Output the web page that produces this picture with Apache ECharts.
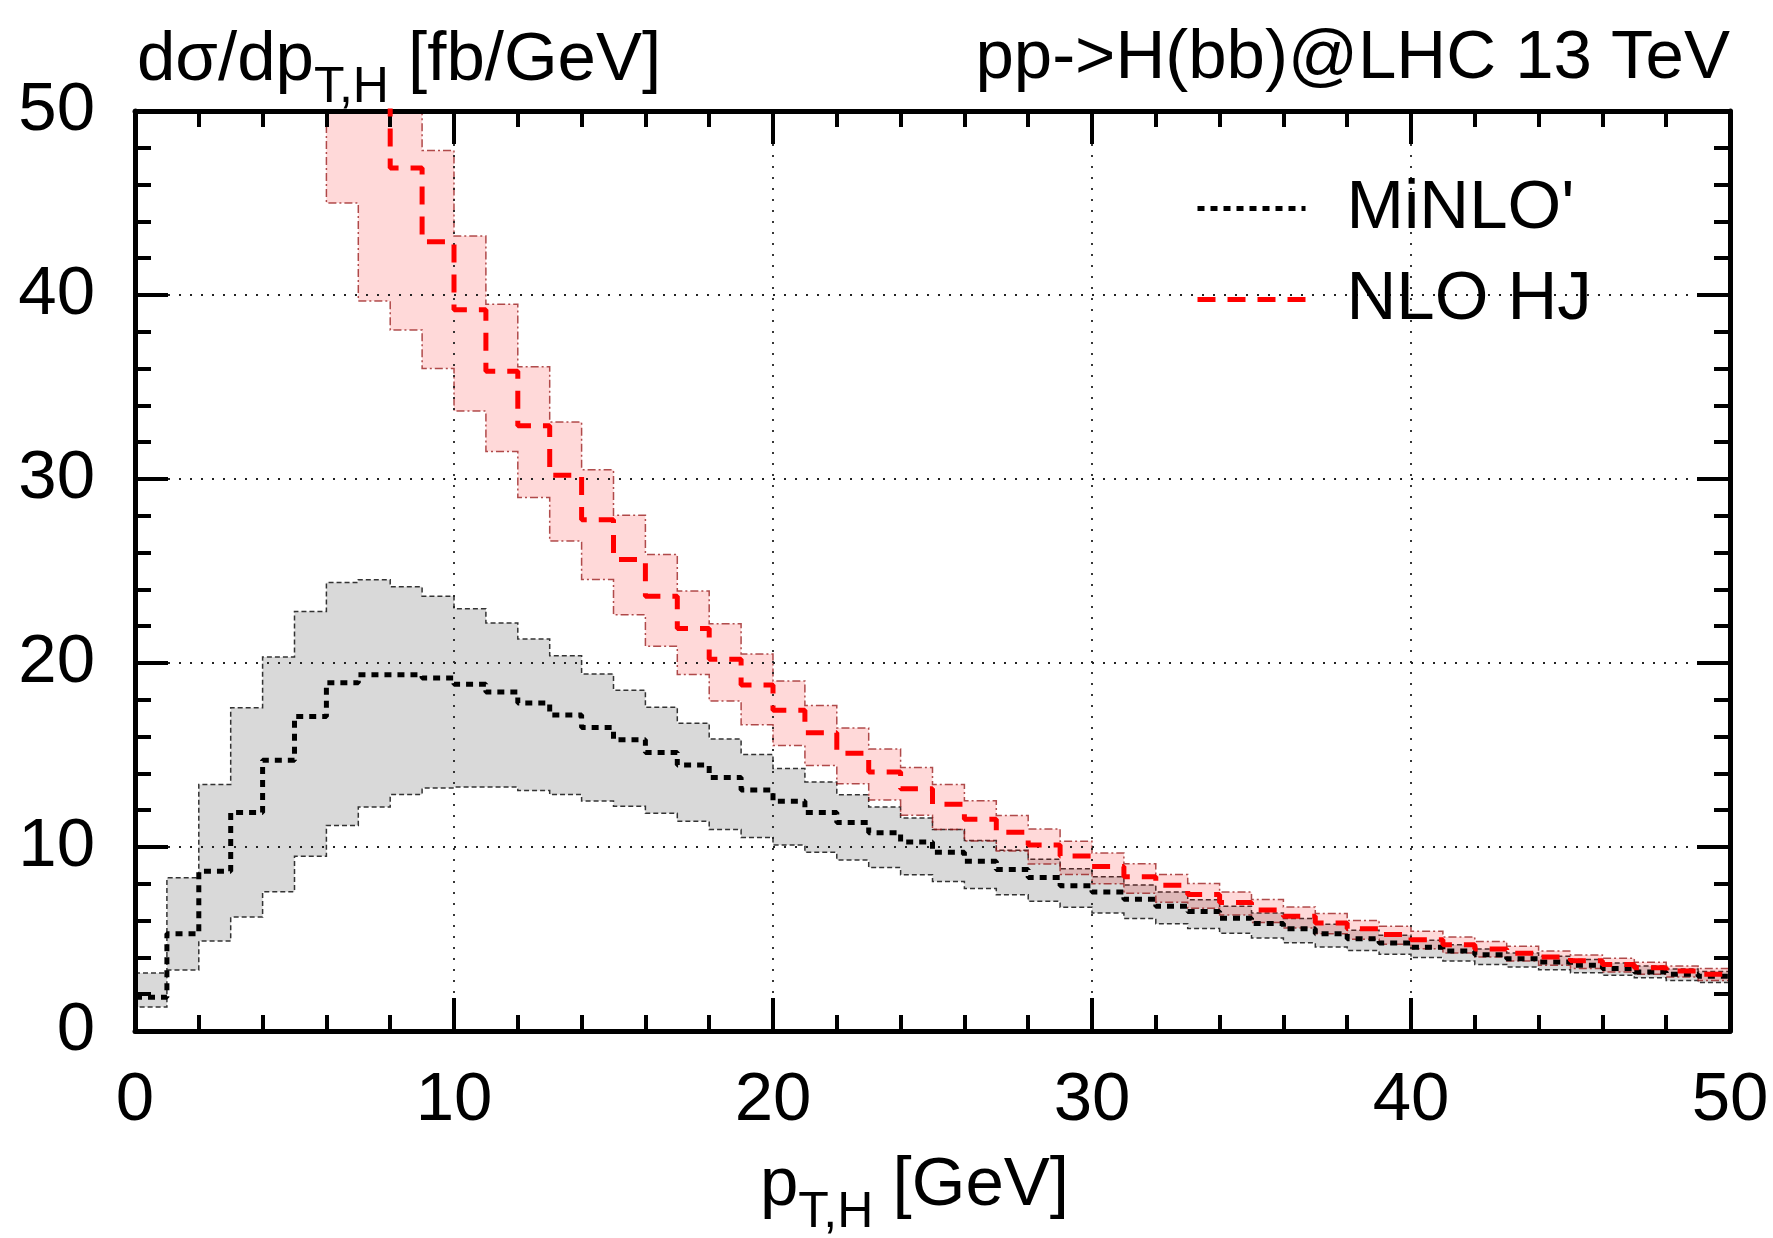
<!DOCTYPE html>
<html><head><meta charset="utf-8">
<script src="https://cdn.jsdelivr.net/npm/echarts@6/dist/echarts.min.js"></script>
<style>html,body{margin:0;padding:0;background:#fff}#c{width:1773px;height:1238px}</style>
</head><body><div id="c"></div>
<script>
// Bin edges (GeV), 1 GeV bins from 0 to 50
const binEdges = [0,1,2,3,4,5,6,7,8,9,10,11,12,13,14,15,16,17,18,19,20,21,22,23,24,25,26,27,28,29,30,31,32,33,34,35,36,37,38,39,40,41,42,43,44,45,46,47,48,49,50];

// MiNLO' : central value, upper and lower scale-variation envelope (fb/GeV)
const minloCentral = [1.83,5.28,8.68,11.88,14.72,17.09,18.93,19.36,19.36,19.18,
  18.85,18.43,17.83,17.18,16.49,15.83,15.13,14.45,13.78,13.10,
  12.48,11.88,11.33,10.78,10.27,9.71,9.22,8.78,8.34,7.89,
  7.56,7.16,6.78,6.49,6.13,5.84,5.56,5.29,5.02,4.78,
  4.55,4.35,4.15,3.93,3.75,3.57,3.39,3.21,3.08,2.97];
const minloUpper = [3.15,8.33,13.40,17.57,20.33,22.80,24.37,24.52,24.14,23.63,
  22.95,22.17,21.30,20.39,19.40,18.52,17.59,16.73,15.87,15.03,
  14.26,13.53,12.84,12.17,11.57,10.95,10.35,9.82,9.33,8.82,
  8.38,7.94,7.56,7.13,6.78,6.41,6.11,5.80,5.47,5.20,
  4.93,4.69,4.46,4.24,4.06,3.88,3.70,3.53,3.37,3.24];
const minloLower = [1.30,3.32,4.89,6.19,7.57,9.50,11.17,12.17,12.85,13.20,
  13.26,13.26,13.07,12.85,12.50,12.21,11.83,11.40,10.95,10.51,
  10.11,9.71,9.29,8.89,8.49,8.12,7.74,7.41,7.05,6.72,
  6.41,6.12,5.83,5.57,5.31,5.05,4.80,4.57,4.38,4.17,
  3.99,3.80,3.62,3.48,3.33,3.17,3.03,2.90,2.75,2.63];

// NLO HJ : central, upper, lower (bins below 6 GeV lie above the plotted range)
const hjCentral = [null,null,null,null,null,null,57,52,46.9,42.9,
  39.2,35.85,32.9,30.2,27.78,25.62,23.63,21.87,20.2,18.80,
  17.43,16.21,15.10,14.08,13.17,12.33,11.51,10.80,10.11,9.51,
  8.94,8.38,7.92,7.42,6.98,6.58,6.23,5.87,5.56,5.24,
  4.96,4.69,4.46,4.22,4.02,3.82,3.62,3.44,3.26,3.08];
const hjUpper = [null,null,null,null,null,null,65,59,53,47.86,
  43.2,39.5,36.1,33.1,30.5,28.03,25.9,23.91,22.13,20.49,
  19.02,17.69,16.47,15.32,14.32,13.39,12.51,11.71,10.98,10.31,
  9.67,9.09,8.51,8.01,7.56,7.14,6.74,6.38,6.01,5.69,
  5.42,5.11,4.86,4.60,4.35,4.13,3.95,3.73,3.53,3.39];
const hjLower = [null,null,null,null,null,null,45.0,39.67,38.1,36.0,
  33.7,31.5,29.0,26.63,24.54,22.62,20.91,19.37,17.94,16.65,
  15.52,14.43,13.44,12.55,11.73,10.95,10.33,9.78,9.07,8.51,
  8.0,7.49,7.0,6.67,6.30,5.90,5.60,5.29,4.98,4.71,
  4.47,4.24,4.02,3.80,3.57,3.39,3.21,3.08,2.93,2.75];

const FONT = 'Liberation Sans';
const FS = 69;
const FSUB = 50;

function stepData(vals){
  const out = [];
  let last = -1;
  for (let i = 0; i < vals.length; i++) {
    if (vals[i] == null) continue;
    out.push([binEdges[i], vals[i]]);
    last = i;
  }
  if (last >= 0) out.push([binEdges[last + 1], vals[last]]);
  return out;
}
function bandItems(low, up){
  const out = [];
  for (let i = 0; i < low.length; i++) {
    if (low[i] == null || up[i] == null) continue;
    out.push([binEdges[i], binEdges[i + 1], low[i], up[i]]);
  }
  return out;
}
function bandSeries(low, up, style, z){
  const items = bandItems(low, up);
  return {
    type: 'custom', z: z, clip: true, silent: true,
    data: items,
    encode: {x: [0, 1], y: [2, 3]},
    renderItem: function(params, api){
      if (params.dataIndex !== 0) return null;
      const pts = [];
      for (const it of items) { pts.push(api.coord([it[0], it[3]])); pts.push(api.coord([it[1], it[3]])); }
      for (let k = items.length - 1; k >= 0; k--) { const it = items[k]; pts.push(api.coord([it[1], it[2]])); pts.push(api.coord([it[0], it[2]])); }
      return {type: 'polygon', shape: {points: pts}, style: style};
    }
  };
}

const chart = echarts.init(document.getElementById('c'), null, {renderer: 'canvas'});

function axisBase(extra){
  return Object.assign({
    type: 'value', min: 0, max: 50, interval: 10, z: 3,
    axisLine: {show: true, onZero: false, lineStyle: {color: '#000', width: 5}},
    axisTick: {show: true, inside: true, length: 33, lineStyle: {color: '#000', width: 4}},
    minorTick: {show: true, splitNumber: 5, length: 16, lineStyle: {color: '#000', width: 4}}
  }, extra);
}
const gridDots = {show: true, lineStyle: {color: '#222', width: 1.8, type: [2, 9]}};

const option = {
  animation: false,
  backgroundColor: '#fff',
  grid: {left: 135, right: 43, top: 111, bottom: 207, containLabel: false},
  xAxis: [
    axisBase({position: 'bottom',
      axisLabel: {show: true, color: '#000', fontSize: FS, fontFamily: FONT, margin: 35},
      splitLine: gridDots}),
    axisBase({position: 'top', axisLabel: {show: false}, splitLine: {show: false}})
  ],
  yAxis: [
    axisBase({position: 'left',
      axisLabel: {show: true, color: '#000', fontSize: FS, fontFamily: FONT, margin: 40},
      splitLine: gridDots}),
    axisBase({position: 'right', axisLabel: {show: false}, splitLine: {show: false}})
  ],
  legend: {
    orient: 'vertical', left: 1190, top: 169, itemWidth: 108, itemHeight: 20, itemGap: 22,
    data: [
      {name: "MiNLO'", itemStyle: {opacity: 0}, lineStyle: {color: '#000', width: 5, type: [7, 6]}},
      {name: 'NLO HJ', itemStyle: {opacity: 0}, lineStyle: {color: '#ff0000', width: 5, type: [18, 12]}}
    ],
    textStyle: {color: '#000', fontSize: FS, fontFamily: FONT, padding: [0, 0, 0, 36]},
    selectedMode: false
  },
  series: [
    bandSeries(minloLower, minloUpper, {fill: '#d9d9d9', stroke: '#333', lineWidth: 1.5, lineDash: [5, 3]}, 1),
    bandSeries(hjLower, hjUpper, {fill: 'rgba(255,0,0,0.15)', stroke: 'rgba(150,20,20,0.75)', lineWidth: 1.5, lineDash: [8, 3, 2, 3]}, 1),
    {name: "MiNLO'", type: 'line', step: 'end', z: 5, symbol: 'none', clip: true, silent: true,
      data: stepData(minloCentral),
      lineStyle: {color: '#000', width: 5, type: [7, 6]}, itemStyle: {color: '#000'}},
    {name: 'NLO HJ', type: 'line', step: 'end', z: 6, symbol: 'none', clip: true, silent: true,
      data: stepData(hjCentral),
      lineStyle: {color: '#ff0000', width: 5, type: [18, 12]}, itemStyle: {color: '#ff0000'}}
  ],
  graphic: [
    {type: 'text', left: 137, top: 26, z: 10,
      style: {text: '{a|dσ/dp}{s|T,H}{a| [fb/GeV]}', fill: '#000', fontFamily: FONT,
        rich: {a: {fontSize: FS, fontFamily: FONT}, s: {fontSize: FSUB, fontFamily: FONT, padding: [56, 0, 0, 0]}}}},
    {type: 'text', right: 43, top: 24, z: 10,
      style: {text: 'pp->H(bb)@LHC 13 TeV', fill: '#000', fontSize: FS, fontFamily: FONT}},
    {type: 'text', left: 760, top: 1151, z: 10,
      style: {text: '{a|p}{s|T,H}{a| [GeV]}', fill: '#000', fontFamily: FONT,
        rich: {a: {fontSize: FS, fontFamily: FONT}, s: {fontSize: FSUB, fontFamily: FONT, padding: [56, 0, 0, 0]}}}}
  ]
};
chart.setOption(option);
</script></body></html>
